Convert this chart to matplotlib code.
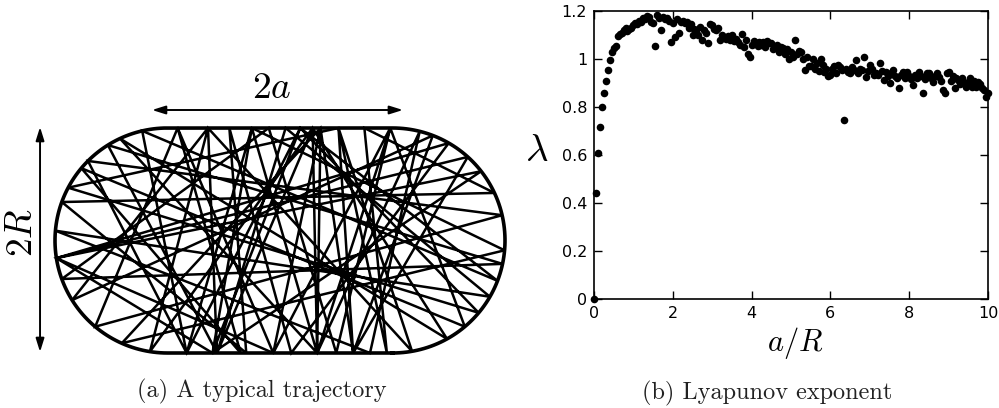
import numpy as np
import matplotlib.pyplot as plt

plt.rcParams['mathtext.fontset'] = 'cm'

# ---- panel (b): Lyapunov exponent vs a/R ----
a_over_R = [
    0.00, 0.05, 0.10, 0.15, 0.20, 0.25, 0.30, 0.35, 0.40, 0.45,
    0.50, 0.55, 0.60, 0.65, 0.70, 0.75, 0.80, 0.85, 0.90, 0.95,
    1.00, 1.05, 1.10, 1.15, 1.20, 1.25, 1.30, 1.35, 1.40, 1.45,
    1.50, 1.55, 1.60, 1.65, 1.70, 1.75, 1.80, 1.85, 1.90, 1.95,
    2.00, 2.05, 2.10, 2.15, 2.20, 2.25, 2.30, 2.35, 2.40, 2.45,
    2.50, 2.55, 2.60, 2.65, 2.70, 2.75, 2.80, 2.85, 2.90, 2.95,
    3.00, 3.05, 3.10, 3.15, 3.20, 3.25, 3.30, 3.35, 3.40, 3.45,
    3.50, 3.55, 3.60, 3.65, 3.70, 3.75, 3.80, 3.85, 3.90, 3.95,
    4.00, 4.05, 4.10, 4.15, 4.20, 4.25, 4.30, 4.35, 4.40, 4.45,
    4.50, 4.55, 4.60, 4.65, 4.70, 4.75, 4.80, 4.85, 4.90, 4.95,
    5.00, 5.05, 5.10, 5.15, 5.20, 5.25, 5.30, 5.35, 5.40, 5.45,
    5.50, 5.55, 5.60, 5.65, 5.70, 5.75, 5.80, 5.85, 5.90, 5.95,
    6.00, 6.05, 6.10, 6.15, 6.20, 6.25, 6.30, 6.35, 6.40, 6.45,
    6.50, 6.55, 6.60, 6.65, 6.70, 6.75, 6.80, 6.85, 6.90, 6.95,
    7.00, 7.05, 7.10, 7.15, 7.20, 7.25, 7.30, 7.35, 7.40, 7.45,
    7.50, 7.55, 7.60, 7.65, 7.70, 7.75, 7.80, 7.85, 7.90, 7.95,
    8.00, 8.05, 8.10, 8.15, 8.20, 8.25, 8.30, 8.35, 8.40, 8.45,
    8.50, 8.55, 8.60, 8.65, 8.70, 8.75, 8.80, 8.85, 8.90, 8.95,
    9.00, 9.05, 9.10, 9.15, 9.20, 9.25, 9.30, 9.35, 9.40, 9.45,
    9.50, 9.55, 9.60, 9.65, 9.70, 9.75, 9.80, 9.85, 9.90, 9.95,
    10.00,
]
lyapunov = [
    0.00, 0.44, 0.61, 0.715, 0.80, 0.86, 0.91, 0.955, 0.995, 1.03,
    1.045, 1.055, 1.095, 1.105, 1.11, 1.12, 1.13, 1.115, 1.125, 1.13,
    1.14, 1.15, 1.145, 1.16, 1.155, 1.17, 1.165, 1.18, 1.175, 1.155,
    1.15, 1.055, 1.185, 1.17, 1.12, 1.175, 1.165, 1.17, 1.16, 1.07,
    1.15, 1.09, 1.165, 1.11, 1.155, 1.16, 1.15, 1.155, 1.13, 1.145,
    1.10, 1.125, 1.12, 1.10, 1.135, 1.08, 1.12, 1.11, 1.065, 1.145,
    1.14, 1.125, 1.12, 1.13, 1.08, 1.10, 1.09, 1.085, 1.095, 1.08,
    1.10, 1.075, 1.085, 1.07, 1.06, 1.105, 1.05, 1.08, 1.02, 1.01,
    1.06, 1.075, 1.065, 1.055, 1.072, 1.06, 1.07, 1.05, 1.075, 1.065,
    1.065, 1.04, 1.05, 1.06, 1.03, 1.05, 1.045, 1.02, 1.04, 1.00,
    1.03, 1.01, 1.08, 1.02, 1.035, 1.03, 1.00, 0.955, 1.01, 0.97,
    0.97, 1.00, 0.96, 0.985, 0.95, 1.00, 0.975, 0.945, 0.96, 0.93,
    0.935, 0.96, 0.97, 0.94, 0.975, 0.965, 0.955, 0.745, 0.96, 0.945,
    0.94, 0.965, 0.955, 0.995, 0.94, 0.96, 0.955, 1.01, 0.925, 0.95,
    0.975, 0.96, 0.935, 0.94, 0.935, 0.982, 0.95, 0.913, 0.945, 0.93,
    0.90, 0.94, 0.955, 0.93, 0.92, 0.878, 0.935, 0.945, 0.92, 0.947,
    0.93, 0.915, 0.893, 0.935, 0.92, 0.947, 0.93, 0.86, 0.915, 0.94,
    0.94, 0.92, 0.905, 0.93, 0.94, 0.925, 0.91, 0.871, 0.857, 0.94,
    0.947, 0.91, 0.93, 0.878, 0.92, 0.913, 0.895, 0.92, 0.905, 0.885,
    0.90, 0.92, 0.885, 0.91, 0.885, 0.906, 0.895, 0.88, 0.87, 0.84,
    0.86,
]
x_ticks = [0, 2, 4, 6, 8, 10]
y_ticks = [0, 0.2, 0.4, 0.6, 0.8, 1.0, 1.2]
y_tick_labels = ['0', '0.2', '0.4', '0.6', '0.8', '1', '1.2']

# ---- panel (a): stadium (R = 1, half length a = 1) and bounce points ----
# 'T'/'B': x on top/bottom wall, 'L'/'R': angle (deg) on left/right cap
bounces = [
    ('L', 189), ('R', 38), ('B', -0.60), ('T', -0.25), ('B', 0.33),
    ('T', 0.36), ('B', -0.06), ('T', -0.91), ('L', 230), ('R', 13),
    ('L', 135), ('B', -0.83), ('T', 0.18), ('R', -40), ('L', 152),
    ('T', 0.52), ('B', 0.65), ('R', 69), ('L', 212), ('T', -0.64),
    ('B', -0.56), ('T', 0.29), ('R', -61), ('L', 115), ('B', 0.33),
    ('T', 0.98), ('B', -0.06), ('L', 189), ('R', 48), ('B', 0.65),
    ('T', 0.36), ('L', 246), ('R', -5), ('T', -0.25), ('B', -0.83),
    ('L', 103), ('R', -21), ('T', 0.18), ('B', -0.60), ('L', 189),
    ('R', 60), ('B', 0.10), ('T', -0.45), ('B', -0.30), ('L', 160),
    ('R', 25), ('T', 0.75), ('B', 0.95), ('T', 0.52), ('R', -80),
    ('T', -0.64), ('L', 261), ('T', 0.29), ('B', 0.33), ('R', 76),
    ('B', 0.80), ('L', 175), ('R', -30), ('T', 0.05), ('B', -0.56),
    ('L', 122), ('R', -12), ('L', 200), ('T', -0.10), ('B', 0.50),
    ('T', 0.98), ('R', -50), ('L', 140), ('B', -0.35), ('T', -0.91),
]
a_half = 1.0
R = 1.0


def boundary_point(side, v):
    if side == 'T':
        return v, R
    if side == 'B':
        return v, -R
    t = np.radians(v)
    cx = -a_half if side == 'L' else a_half
    return cx + R * np.cos(t), R * np.sin(t)


fig = plt.figure(figsize=(9.99, 4.08), dpi=100)

# panel (a), data units mapped to pixels: centre (280, 240.5), 112.5 px per R
s = 112.5
ax1 = fig.add_axes([0, 0, 1, 1])
ax1.set_xlim((0 - 280) / s, (999 - 280) / s)
ax1.set_ylim((240.5 - 408) / s, 240.5 / s)
ax1.axis('off')

pts = np.array([boundary_point(sd, v) for sd, v in bounces])
ax1.plot(pts[:, 0], pts[:, 1], color='black', lw=1.8, solid_joinstyle='miter')

th_r = np.linspace(-np.pi / 2, np.pi / 2, 100)
th_l = np.linspace(np.pi / 2, 3 * np.pi / 2, 100)
bx = np.concatenate([a_half + R * np.cos(th_r), -a_half + R * np.cos(th_l), [a_half]])
by = np.concatenate([R * np.sin(th_r), R * np.sin(th_l), [-R]])
ax1.plot(bx, by, color='black', lw=2.6)

arrow = dict(arrowstyle='<|-|>,head_length=0.8,head_width=0.25', color='black',
             lw=1.4, shrinkA=0, shrinkB=0)
ax1.annotate('', xy=(-1.138, 1.16), xytext=(1.093, 1.16), arrowprops=arrow)
ax1.annotate('', xy=(-2.133, 1.009), xytext=(-2.133, -0.991), arrowprops=arrow)
ax1.text(-0.071, 1.356, r'$2a$', fontsize=27, ha='center', va='center')
ax1.text(-2.29, 0.067, r'$2R$', fontsize=27, ha='center', va='center', rotation=90)

# panel (b)
ax2 = fig.add_axes([594 / 999, 1 - 299 / 408, 394 / 999, 288 / 408])
ax2.scatter(a_over_R, lyapunov, s=30, color='black', linewidths=0, clip_on=False, zorder=3)
ax2.set_xlim(0, 10)
ax2.set_ylim(0, 1.2)
ax2.set_xticks(x_ticks)
ax2.set_xticklabels([str(t) for t in x_ticks])
ax2.set_yticks(y_ticks)
ax2.set_yticklabels(y_tick_labels)
ax2.tick_params(direction='in', length=6, width=1.0, top=True, right=True,
                labelsize=11.5, pad=5)
for sp in ax2.spines.values():
    sp.set_linewidth(1.2)

fig.text(537 / 999, 1 - 150 / 408, r'$\lambda$', fontsize=28, ha='center', va='center')
fig.text(795 / 999, 1 - 343 / 408, r'$a/R$', fontsize=22, ha='center', va='center')

fig.text(262 / 999, 1 - 391 / 408, '(a) A typical trajectory', family='cmr10',
         fontsize=17.5, ha='center', va='center', color='#222222')
fig.text(767 / 999, 1 - 393 / 408, '(b) Lyapunov exponent', family='cmr10',
         fontsize=17.5, ha='center', va='center', color='#222222')

fig.savefig('out.png', dpi=100)
